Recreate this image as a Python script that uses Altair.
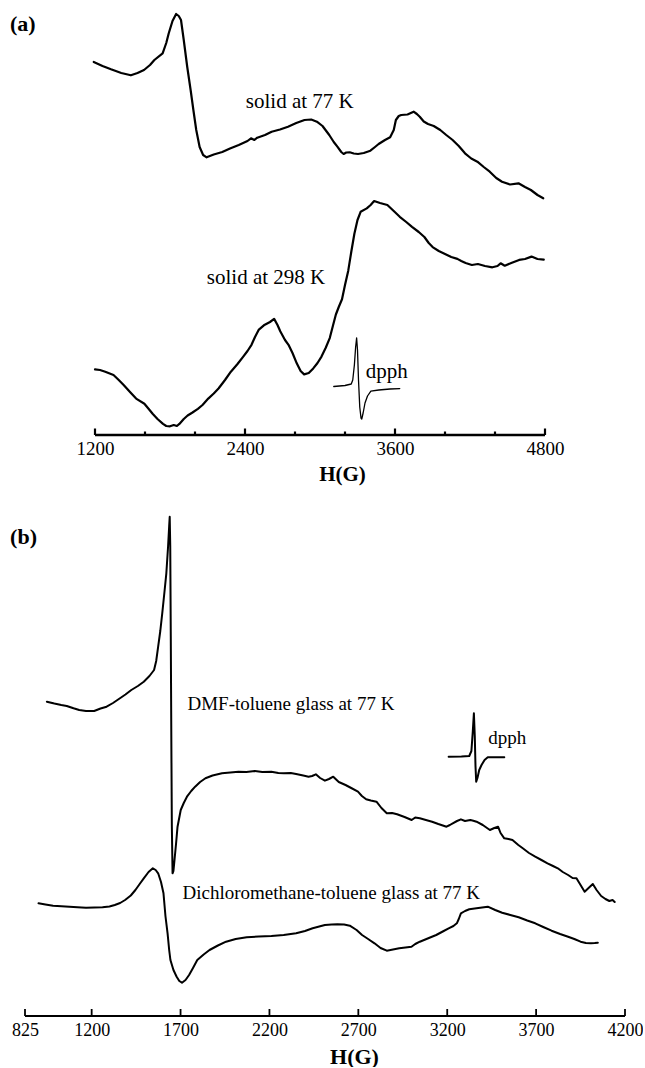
import altair as alt
import pandas as pd

SERIF = "Liberation Serif"

# ---------------- Panel (a) data ----------------
a77_H = [1190, 1260, 1328, 1410, 1487, 1540, 1592, 1640, 1675, 1741, 1770, 1790, 1820, 1849, 1870, 1888,
         1910, 1938, 1965, 1987, 2010, 2037, 2065, 2093, 2150, 2218, 2280, 2350, 2420, 2448, 2475, 2498,
         2560, 2613, 2680, 2744, 2810, 2876, 2930, 2975, 3020, 3074, 3110, 3139, 3170, 3189, 3210, 3238,
         3270, 3304, 3350, 3403, 3440, 3469, 3520, 3561, 3590, 3607, 3630, 3650, 3700, 3749, 3775, 3798,
         3830, 3864, 3910, 3962, 4010, 4061, 4110, 4160, 4210, 4259, 4310, 4358, 4410, 4456, 4520, 4588,
         4640, 4687, 4740, 4786]
a77_v = [373, 369, 365.7, 362, 359.7, 362, 365, 370, 375, 381.7, 392, 401.7, 414, 421, 419, 415,
         395, 368, 345, 325, 305, 288, 280, 277.7, 280.5, 283, 286.5, 290, 294, 296.7, 295, 297.3,
         300, 303.3, 305.5, 308.3, 312, 315, 315.5, 313.3, 309, 300, 293, 288.3, 283, 281, 282.5, 282.7,
         281.5, 281, 282, 284.3, 288, 291, 295, 297.7, 305, 315, 319, 320, 320.5, 323.3, 321, 318.3,
         313.5, 311, 309, 305, 300, 295, 289, 281.7, 276.5, 273.3, 268, 263.3, 257, 253.3, 250.5, 251.7,
         248, 245, 240, 236.7]

a298_H = [1200, 1240, 1282, 1348, 1390, 1431, 1480, 1529, 1595, 1630, 1661, 1700, 1744, 1770, 1800, 1830,
          1855, 1875, 1910, 1941, 1980, 2023, 2060, 2106, 2150, 2188, 2240, 2287, 2340, 2386, 2420, 2452,
          2480, 2511, 2551, 2600, 2633, 2660, 2682, 2720, 2748, 2780, 2814, 2845, 2873, 2910, 2946, 2980,
          3012, 3045, 3078, 3105, 3127, 3150, 3176, 3200, 3226, 3250, 3275, 3300, 3325, 3374, 3405, 3433,
          3480, 3539, 3590, 3638, 3690, 3736, 3790, 3835, 3870, 3901, 3950, 4000, 4050, 4099, 4130, 4165,
          4215, 4263, 4320, 4379, 4420, 4445, 4478, 4530, 4593, 4640, 4692, 4740, 4790]
a298_v = [65.6, 65, 63.3, 60, 55, 49.8, 43, 36.4, 31.3, 26, 21.2, 16, 11.1, 9, 8.7, 10,
          9, 11.1, 16, 19.5, 22.5, 26.2, 30, 36.4, 41.5, 46.5, 55, 63.3, 71, 78.4, 84, 90.2,
          98, 105.4, 109.7, 113, 116.1, 110, 103.7, 95, 90.2, 82, 71.7, 64, 60.6, 62, 66.6, 72,
          78.4, 87, 96.9, 110, 120.5, 128, 135.7, 150, 164.3, 183, 201.3, 215, 223.2, 226.6, 230, 234,
          232, 230, 224, 218.2, 213, 208.1, 203, 198, 192, 187.9, 184, 181.1, 178, 176.1, 174, 172,
          170, 171, 169, 167.7, 169, 171.7, 169.3, 172, 175.1, 176, 178.4, 176, 175.4]

a_dpph_H = [3110, 3200, 3250, 3262, 3275, 3285, 3293, 3300, 3308, 3318, 3328, 3334, 3345, 3360, 3380,
            3407, 3470, 3560, 3638]
a_dpph_v = [48.5, 49.5, 51, 55, 70, 88, 97, 85, 55, 28, 17, 16, 22, 32, 39,
            43.8, 45, 46, 46.4]

a_major = [1200, 2400, 3600, 4800]
a_minor = [1600, 2000, 2800, 3200, 4000, 4400]

a_text = ["(a)", "solid at 77 K", "solid at 298 K", "dpph"]
a_text_H = [520, 2838, 2568, 3365]
a_text_v = [411, 333, 157, 63]

# ---------------- Panel (b) data ----------------
b_dmf_H = [948, 990, 1029, 1060, 1098, 1130, 1168, 1214, 1250, 1284, 1320, 1353, 1390, 1423, 1460, 1493,
           1525, 1551, 1563, 1574, 1586, 1597, 1610, 1620, 1630, 1636, 1639, 1642, 1645, 1648, 1651, 1655,
           1660, 1666, 1675, 1683, 1701, 1718, 1736, 1760, 1782, 1810, 1840, 1880, 1933, 1980, 2026, 2070,
           2118, 2160, 2211, 2250, 2281, 2320, 2350, 2390, 2420, 2440, 2461, 2485, 2512, 2535, 2559, 2590,
           2628, 2660, 2698, 2720, 2744, 2770, 2802, 2830, 2860, 2890, 2918, 2960, 3000, 3020, 3046, 3080,
           3115, 3150, 3196, 3215, 3231, 3255, 3277, 3300, 3330, 3347, 3365, 3400, 3440, 3465, 3486, 3500,
           3521, 3545, 3567, 3600, 3625, 3660, 3695, 3730, 3764, 3795, 3822, 3850, 3880, 3905, 3927, 3950,
           3973, 3995, 4019, 4040, 4066, 4090, 4112, 4130, 4142]
b_dmf_v = [314.3, 312.5, 311, 310, 307.7, 306, 305, 305, 307.5, 309.3, 313, 317, 321.5, 326, 330, 334.3,
           340, 346, 355, 369.3, 385, 402.7, 425, 442.7, 470, 490, 499.3, 470, 380, 280, 190, 142.7,
           145, 156, 173, 189.3, 206, 213, 219.3, 225, 229.3, 234, 237.7, 240.5, 242.7, 243.5, 244.3, 244,
           245, 244, 244.3, 243, 242.7, 243, 242, 240.5, 239.3, 240, 241.7, 238, 235.3, 237, 239.3, 234,
           231, 228, 224.3, 220, 216.7, 215.5, 214.3, 208, 202.7, 203, 201.7, 199, 196, 198.5, 197.7, 196,
           194.3, 192, 189.3, 191, 192.7, 195, 196.7, 195, 196, 195.3, 194.3, 191, 186, 188, 189.3, 183,
           177.7, 177, 176, 171, 167.7, 163, 159.3, 156, 152.7, 150, 147.7, 144, 141, 138, 137.7, 131,
           124.3, 128, 132, 126, 120, 117, 115, 116, 114]

b_dcm_H = [901, 940, 983, 1030, 1075, 1120, 1168, 1215, 1261, 1300, 1330, 1360, 1388, 1420, 1446, 1470,
           1493, 1520, 1544, 1560, 1574, 1590, 1604, 1615, 1627, 1636, 1643, 1660, 1678, 1693, 1708, 1728,
           1748, 1770, 1794, 1830, 1863, 1910, 1956, 2010, 2072, 2140, 2211, 2280, 2350, 2400, 2443, 2480,
           2512, 2550, 2582, 2620, 2652, 2690, 2721, 2755, 2791, 2825, 2860, 2895, 2930, 2965, 2999, 3020,
           3046, 3090, 3138, 3175, 3208, 3235, 3254, 3265, 3277, 3300, 3324, 3375, 3428, 3470, 3509, 3555,
           3602, 3650, 3695, 3740, 3787, 3835, 3880, 3915, 3950, 3980, 4008, 4030, 4047]
b_dcm_v = [112.7, 111.5, 110.3, 109.8, 109.3, 108.8, 108.3, 108.5, 108.7, 109.5, 111, 113, 116, 120.5, 126, 132,
           137.7, 144, 147.7, 146, 142.7, 134, 122.7, 100, 82.7, 66, 56, 46, 39.3, 35, 33.3, 36,
           41, 48, 56, 61.5, 66, 70.5, 74.3, 77, 78.7, 79.5, 80, 81, 82.7, 85, 87.7, 89.5,
           91, 91.5, 91.7, 91.5, 90.3, 86, 81, 77, 72.7, 68, 65.3, 66.5, 67.7, 68.5, 69.3, 72,
           74.3, 77.5, 81, 84.5, 87.7, 90, 92.7, 97, 102.7, 105, 106.7, 108, 109.3, 106, 103.3, 101,
           98.7, 95.5, 92.7, 89, 85.3, 82, 79.3, 77, 74.3, 73, 72.7, 73, 73.3]

b_dpph_H = [3208, 3280, 3324, 3336, 3344, 3350, 3355, 3359, 3363, 3370, 3380, 3393, 3410, 3428, 3470, 3521]
b_dpph_v = [259.3, 259.5, 260, 265, 285, 302.7, 280, 250, 234.3, 238, 246, 251, 256, 258.7, 258.7, 258.7]

b_ticks = [825, 1200, 1700, 2200, 2700, 3200, 3700, 4200]

b_text = ["(b)", "DMF-toluene glass at 77 K", "Dichloromethane-toluene glass at 77 K", "dpph"]
b_text_H = [741, 1739, 1711, 3431]
b_text_v = [479, 312, 122.7, 277.7]


def series(H, v, name, w):
    return pd.DataFrame({"H": H, "v": v, "s": name, "w": w})


def panel(lines, xdom, ydom, width, height, label_vals, ax_line, ticks, texts, cfg):
    xs = alt.Scale(domain=xdom, nice=False, zero=False)
    ys = alt.Scale(domain=ydom, nice=False, zero=False)
    line = alt.Chart(lines).mark_line(color="black", strokeJoin="round", strokeCap="round").encode(
        x=alt.X("H:Q", scale=xs, axis=alt.Axis(
            values=label_vals, format="d", domain=False, ticks=False, tickSize=0, grid=False,
            labelFont=SERIF, labelFontSize=cfg["lfs"], labelColor="black",
            labelPadding=cfg["lpad"], labelFlush=False, labelOverlap=False,
            title="H(G)", titleFont=SERIF, titleFontSize=cfg["tfs"], titleFontWeight="bold",
            titleColor="black", titleX=cfg["tx"], titleY=cfg["ty"], titleBaseline="middle")),
        y=alt.Y("v:Q", scale=ys, axis=None),
        detail="s:N",
        strokeWidth=alt.StrokeWidth("w:Q", scale=None),
    )
    axis_rule = alt.Chart(ax_line).mark_rule(color="black", strokeWidth=cfg["aw"]).encode(
        x="H:Q", x2="H2:Q", y="y0:Q")
    tick_rule = alt.Chart(ticks).mark_rule(color="black", strokeWidth=cfg["tw"]).encode(
        x="H:Q", y="y0:Q", y2="len:Q")
    layers = [line, axis_rule, tick_rule]
    for t in texts:
        layers.append(alt.Chart(t["df"]).mark_text(
            font=SERIF, fontSize=t["size"], fontWeight=t.get("weight", "normal"),
            align=t["align"], baseline="middle", color="black").encode(
            x="H:Q", y="v:Q", text="t:N"))
    return alt.layer(*layers).properties(width=width, height=height)


# Panel (a)
a_lines = pd.concat([
    series(a77_H, a77_v, "77K", 2.2),
    series(a298_H, a298_v, "298K", 2.2),
    series(a_dpph_H, a_dpph_v, "dpph", 1.3),
])
a_axis = pd.DataFrame({"H": [a_major[0]], "H2": [a_major[-1]], "y0": [0]})
a_ticks = pd.DataFrame({"H": a_major + a_minor,
                        "y0": [0] * (len(a_major) + len(a_minor)),
                        "len": [6.5] * len(a_major) + [3.5] * len(a_minor)})
a_df = pd.DataFrame({"H": a_text_H, "v": a_text_v, "t": a_text})
a_texts = [
    {"df": a_df.iloc[[0]], "size": 22, "weight": "bold", "align": "left"},
    {"df": a_df.iloc[[1, 2]], "size": 21, "align": "center"},
    {"df": a_df.iloc[[3]], "size": 21, "align": "left"},
]
chart_a = panel(a_lines, [640, 5440], [0, 435], 600, 435, a_major, a_axis, a_ticks, a_texts,
                {"lfs": 19, "lpad": 4, "tfs": 21, "tx": 317, "ty": 39, "aw": 2.6, "tw": 2.2})

# Panel (b)
b_lines = pd.concat([
    series(b_dmf_H, b_dmf_v, "dmf", 2.0),
    series(b_dcm_H, b_dcm_v, "dcm", 2.0),
    series(b_dpph_H, b_dpph_v, "dpph", 2.0),
])
b_axis = pd.DataFrame({"H": [b_ticks[0]], "H2": [b_ticks[-1]], "y0": [0]})
b_tk = pd.DataFrame({"H": b_ticks, "y0": [0] * len(b_ticks), "len": [7] * len(b_ticks)})
b_df = pd.DataFrame({"H": b_text_H, "v": b_text_v, "t": b_text})
b_texts = [
    {"df": b_df.iloc[[0]], "size": 22, "weight": "bold", "align": "left"},
    {"df": b_df.iloc[[1, 2]], "size": 19, "align": "left"},
    {"df": b_df.iloc[[3]], "size": 19, "align": "left"},
]
chart_b = panel(b_lines, [825, 4200], [0, 516], 600, 516, b_ticks, b_axis, b_tk, b_texts,
                {"lfs": 18, "lpad": 5, "tfs": 22, "tx": 329, "ty": 40, "aw": 1.8, "tw": 1.8})

chart = alt.vconcat(chart_a, chart_b, spacing=65, bounds="flush").properties(
    padding={"left": 10, "top": 0, "right": 0, "bottom": 0}
).configure_view(stroke=None)

chart.save("out.html", embed_options={"renderer": "svg", "actions": False})
